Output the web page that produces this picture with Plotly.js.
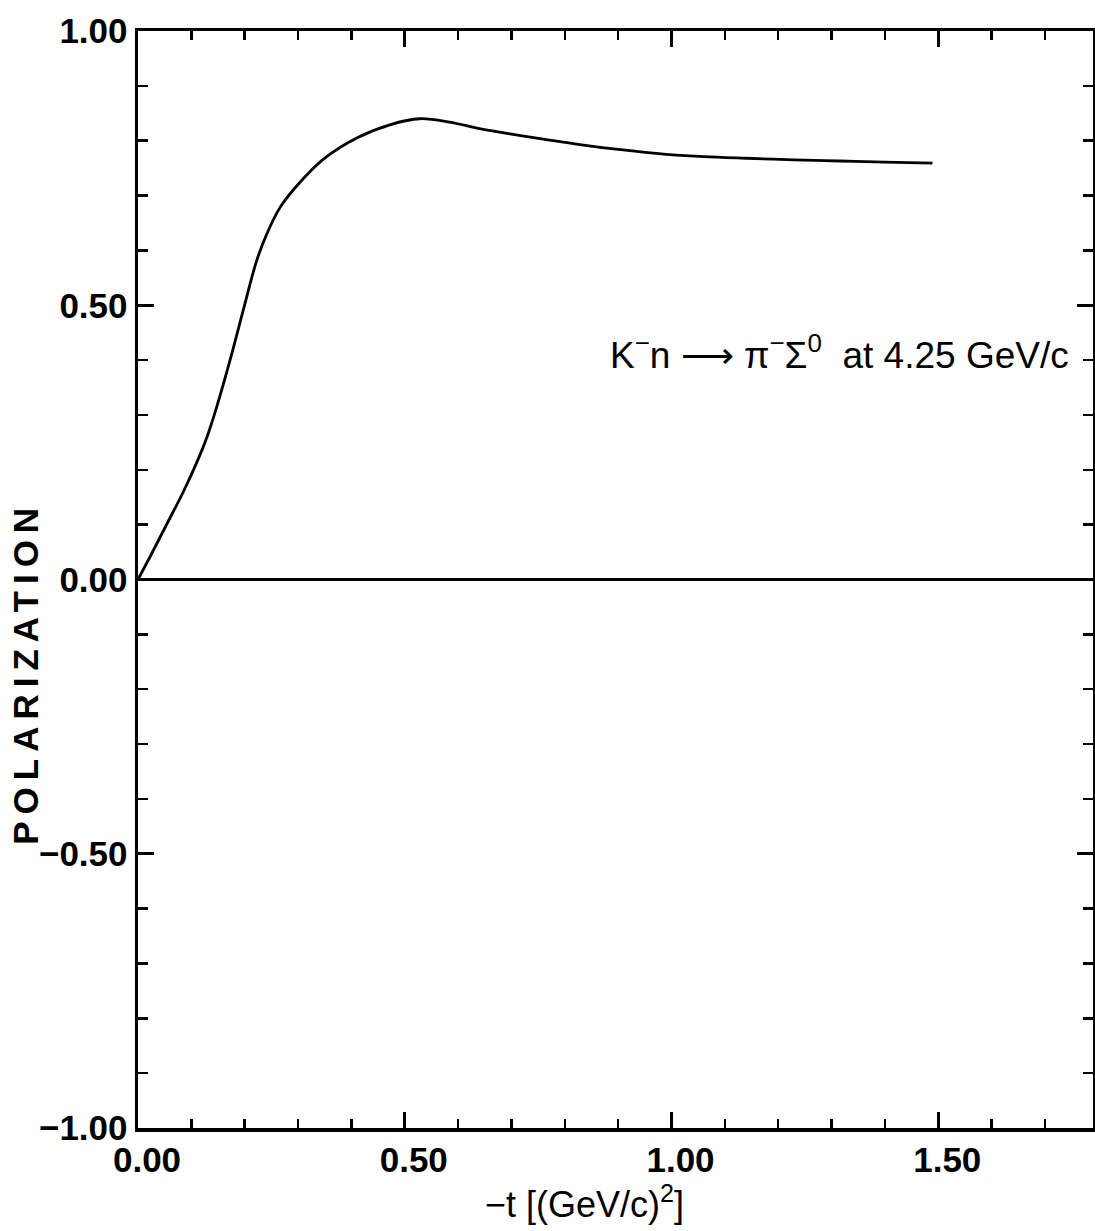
<!DOCTYPE html>
<html>
<head>
<meta charset="utf-8">
<script src="https://cdn.plot.ly/plotly-3.0.1.min.js"></script>
<style>
  html, body { margin: 0; padding: 0; background: #fff; }
  #chart { width: 1095px; height: 1231px; }
  g.annotation[data-index="1"] text { letter-spacing: 7px; }
</style>
</head>
<body>
<div id="chart"></div>
<script>
// -t values [(GeV/c)^2]
const minusT = [0, 0.025, 0.054, 0.085, 0.110, 0.129, 0.147, 0.172, 0.200, 0.222, 0.241, 0.266, 0.297, 0.347, 0.410, 0.472, 0.528, 0.584, 0.640, 0.700, 0.760, 0.828, 0.900, 0.990, 1.060, 1.140, 1.230, 1.315, 1.400, 1.489];
// polarization values
const polarization = [0, 0.046, 0.101, 0.160, 0.213, 0.259, 0.313, 0.398, 0.501, 0.580, 0.629, 0.678, 0.717, 0.766, 0.805, 0.829, 0.840, 0.834, 0.822, 0.812, 0.803, 0.793, 0.784, 0.775, 0.771, 0.768, 0.765, 0.763, 0.761, 0.759];

const xTickVals = [0, 0.5, 1.0, 1.5];
const xTickText = ["0.00", "0.50", "1.00", "1.50"];
const yTickVals = [-1, -0.5, 0, 0.5, 1];
const yTickText = ["\u22121.00", "\u22120.50", "0.00", "0.50", "1.00"];

const reactionText = "K<sup>\u2212</sup>n \u27F6 \u03C0<sup>\u2212</sup>\u03A3<sup>0</sup>  at 4.25 GeV/c";
const yTitleText = "POLARIZATION";
const xTitleText = "\u2212t [(GeV/c)<sup>2</sup>]";

const fontFamily = "Liberation Sans, Arial, sans-serif";

const trace = {
  x: minusT,
  y: polarization,
  type: "scatter",
  mode: "lines",
  line: { color: "#000", width: 2.8, shape: "spline", smoothing: 1 },
  showlegend: false,
  hoverinfo: "skip"
};

const axisCommon = {
  showgrid: false,
  showline: true,
  linecolor: "#000",
  linewidth: 3.5,
  mirror: "ticks",
  ticks: "inside",
  tickcolor: "#000",
  tickwidth: 3,
  ticklen: 16,
  tickmode: "array",
  tickfont: { family: fontFamily, size: 35, color: "#000", weight: "bold" }
};

const layout = {
  width: 1095,
  height: 1231,
  margin: { l: 138, r: 2, t: 31, b: 103 },
  paper_bgcolor: "#fff",
  plot_bgcolor: "#fff",
  xaxis: Object.assign({}, axisCommon, {
    range: [0, 1.79],
    tickvals: xTickVals,
    ticktext: xTickText,
    zeroline: false,
    ticklabelstandoff: -2,
    ticklabelshift: 9,
    minor: { ticks: "inside", dtick: 0.1, tick0: 0, ticklen: 9, tickwidth: 2.5, tickcolor: "#000", showgrid: false }
  }),
  yaxis: Object.assign({}, axisCommon, {
    range: [-1, 1],
    tickvals: yTickVals,
    ticktext: yTickText,
    zeroline: true,
    zerolinecolor: "#000",
    zerolinewidth: 2.5,
    ticklabelstandoff: 0,
    minor: { ticks: "inside", dtick: 0.1, tick0: 0, ticklen: 10, tickwidth: 2.5, tickcolor: "#000", showgrid: false }
  }),
  annotations: [
    {
      x: 1.315, y: 0.413, xref: "x", yref: "y",
      xanchor: "center", yanchor: "middle",
      text: reactionText,
      showarrow: false,
      font: { family: fontFamily, size: 37, color: "#000" }
    },
    {
      x: 0, y: -0.17, xref: "paper", yref: "y",
      xanchor: "center", yanchor: "middle", xshift: -112,
      textangle: -90,
      text: yTitleText,
      showarrow: false,
      font: { family: fontFamily, size: 35, color: "#000", weight: "bold" }
    },
    {
      x: 0.837, y: 0, xref: "x", yref: "paper",
      xanchor: "center", yanchor: "middle", yshift: -74,
      text: xTitleText,
      showarrow: false,
      font: { family: fontFamily, size: 36, color: "#000" }
    }
  ]
};

Plotly.newPlot("chart", [trace], layout, { displayModeBar: false, staticPlot: true });
</script>
</body>
</html>
